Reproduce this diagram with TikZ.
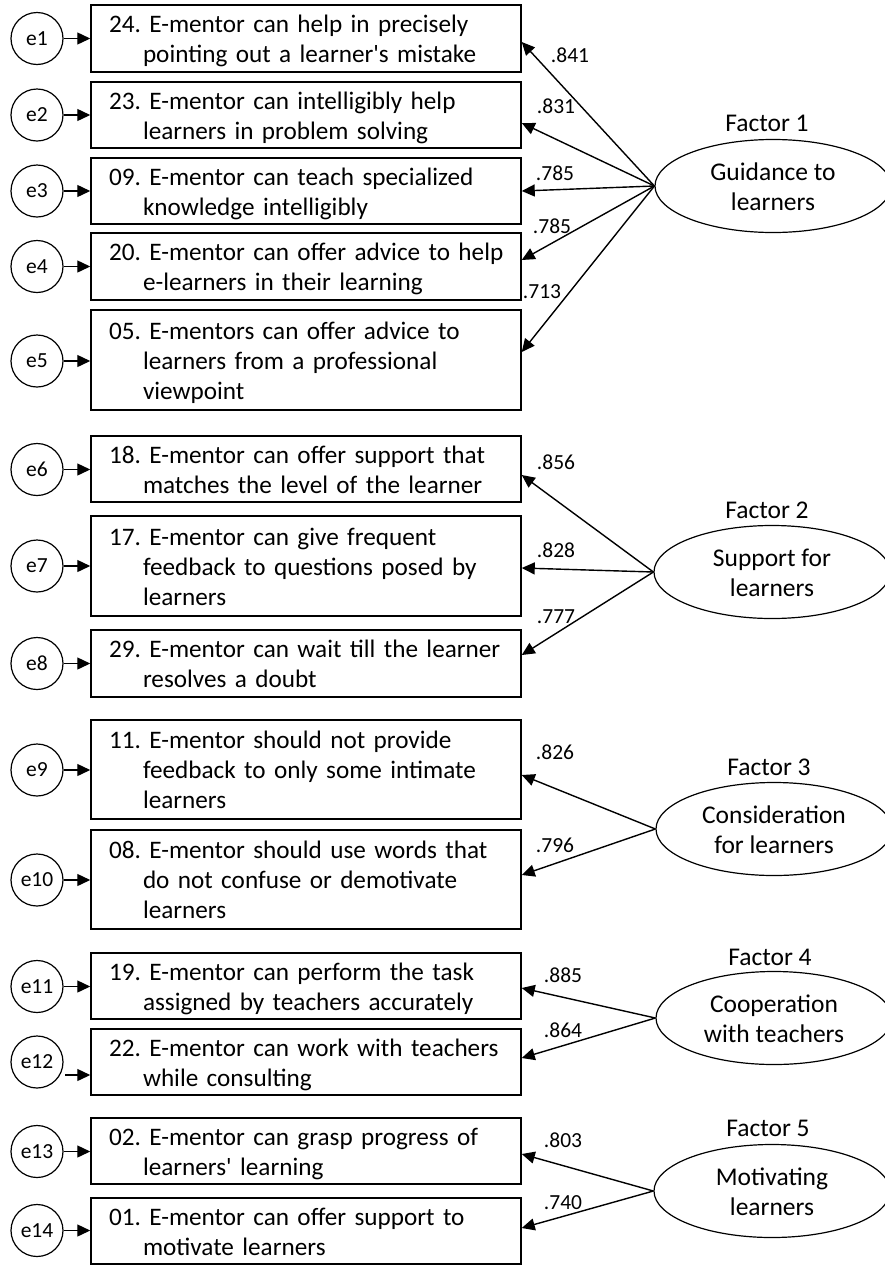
\documentclass[tikz,border=0pt]{standalone}
\usepackage{fontspec}
\setmainfont{Carlito}
\usetikzlibrary{shapes.geometric,arrows.meta,calc}
\newcommand{\ls}{\rule[-6pt]{0pt}{30pt}}
\newcommand{\frl}{\hspace*{9pt}\ls}
\newcommand{\nxl}{\\\hspace*{43pt}\ls}
\frenchspacing
\tikzset{
  box/.style={draw, line width=1.5pt, rectangle, inner xsep=9pt, inner ysep=0pt,
    text width=412pt, align=left, font=\fontsize{25.2}{30}\selectfont\frenchspacing},
  err/.style={draw, line width=1.2pt, circle, minimum size=52pt, inner sep=0pt,
    font=\fontsize{21.5}{24}\selectfont},
  fac/.style={draw, line width=1.2pt, ellipse, minimum width=236pt, minimum height=93pt,
    inner sep=0pt, align=center, font=\fontsize{25.5}{30}\selectfont},
  flab/.style={font=\fontsize{25.5}{30}\selectfont, inner sep=0pt},
  wlab/.style={font=\fontsize{21.5}{24}\selectfont, inner sep=0pt},
  arr/.style={line width=1.4pt, -{Triangle[length=13pt,width=12pt]}}
}
\begin{document}
\begin{tikzpicture}[x=1pt,y=-1pt]
\useasboundingbox (0,0) rectangle (885,1267);
% boxes
\node[box, minimum height=67pt]  (b1)  at (306,38.5)  {\frl 24. E-mentor can help in precisely\nxl pointing out a learner\textquotesingle s mistake};
\node[box, minimum height=66pt]  (b2)  at (306,115)   {\frl 23. E-mentor can intelligibly help\nxl learners in problem solving};
\node[box, minimum height=66pt]  (b3)  at (306,191)   {\frl 09. E-mentor can teach specialized\nxl knowledge intelligibly};
\node[box, minimum height=67pt]  (b4)  at (306,266.5) {\frl 20. E-mentor can offer advice to help\nxl e-learners in their learning};
\node[box, minimum height=100pt] (b5)  at (306,360)   {\frl 05. E-mentors can offer advice to\nxl learners from a professional\nxl viewpoint};
\node[box, minimum height=66pt]  (b6)  at (306,469)   {\frl 18. E-mentor can offer support that\nxl matches the level of the learner};
\node[box, minimum height=100pt] (b7)  at (306,566)   {\frl 17. E-mentor can give frequent\nxl feedback to questions posed by\nxl learners};
\node[box, minimum height=67pt]  (b8)  at (306,663.5) {\frl 29. E-mentor can wait till the learner\nxl resolves a doubt};
\node[box, minimum height=99pt]  (b9)  at (306,769.5) {\frl 11. E-mentor should not provide\nxl feedback to only some intimate\nxl learners};
\node[box, minimum height=99pt]  (b10) at (306,879.5) {\frl 08. E-mentor should use words that\nxl do not confuse or demotivate\nxl learners};
\node[box, minimum height=66pt]  (b11) at (306,986)   {\frl 19. E-mentor can perform the task\nxl assigned by teachers accurately};
\node[box, minimum height=66pt]  (b12) at (306,1062)  {\frl 22. E-mentor can work with teachers\nxl while consulting};
\node[box, minimum height=66pt]  (b13) at (306,1151)  {\frl 02. E-mentor can grasp progress of\nxl learners\textquotesingle\ learning};
\node[box, minimum height=66pt]  (b14) at (306,1231)  {\frl 01. E-mentor can offer support to\nxl motivate learners};
% error terms
\foreach \i/\y in {1/38.5,2/115,3/191,4/266.5,5/361,6/469.5,7/566,8/663.5,9/770,10/880,11/986.5,13/1151.5,14/1230.5}{
  \node[err] (e\i) at (37,\y) {e\i};
  \draw[arr] (e\i.east) -- (e\i.east -| b\i.west);
}
\node[err] (e12) at (37,1062) {e12};
\coordinate (e12s) at ($(e12.center)+(28,13)$);
\draw[arr] (e12s) -- (e12s -| b12.west);
% factors
\node[fac] (F1) at (773,186)  {\ls Guidance to\\\ls learners};
\node[fac] (F2) at (772,572)  {\ls Support for\\\ls learners};
\node[fac] (F3) at (774,829)  {\ls Consideration\\\ls for learners};
\node[fac] (F4) at (774,1018) {\ls Cooperation\\\ls with teachers};
\node[fac] (F5) at (772,1191) {\ls Motivating\\\ls learners};
\node[flab] (L1) at (767,123)  {Factor 1};
\node[flab] (L2) at (767,510)  {Factor 2};
\node[flab] (L3) at (769,767)  {Factor 3};
\node[flab] (L4) at (770,957)  {Factor 4};
\node[flab] (L5) at (768,1128) {Factor 5};
% loadings
\draw[arr] (F1.west) -- ($(b1.east)+(0,3.5)$)  node[wlab] (w1) at (570,55) {.841};
\draw[arr] (F1.west) -- ($(b2.east)+(0,8)$)    node[wlab] (w2) at (556,106) {.831};
\draw[arr] (F1.west) -- ($(b3.east)+(0,0)$)    node[wlab] (w3) at (555,173) {.785};
\draw[arr] (F1.west) -- ($(b4.east)+(0,-6.5)$) node[wlab] (w4) at (552,226) {.785};
\draw[arr] (F1.west) -- ($(b5.east)+(0,-8)$)   node[wlab] (w5) at (542,292) {.713};
\draw[arr] (F2.west) -- ($(b6.east)+(0,6)$)    node[wlab] (w6) at (556,462) {.856};
\draw[arr] (F2.west) -- ($(b7.east)+(0,2)$)    node[wlab] (w7) at (556,550) {.828};
\draw[arr] (F2.west) -- ($(b8.east)+(0,-8.5)$) node[wlab] (w8) at (556,617) {.777};
\draw[arr] (F3.west) -- ($(b9.east)+(0,5.5)$)  node[wlab] (w9) at (555,752) {.826};
\draw[arr] (F3.west) -- ($(b10.east)+(0,-4.5)$) node[wlab] (w10) at (555,845) {.796};
\draw[arr] (F4.west) -- ($(b11.east)+(0,2)$)   node[wlab] (w11) at (563,975) {.885};
\draw[arr] (F4.west) -- ($(b12.east)+(0,-4)$)  node[wlab] (w12) at (563,1030) {.864};
\draw[arr] (F5.west) -- ($(b13.east)+(0,3)$)   node[wlab] (w13) at (563,1140) {.803};
\draw[arr] (F5.west) -- ($(b14.east)+(0,-3)$)  node[wlab] (w14) at (563,1203) {.740};
\end{tikzpicture}
\end{document}
